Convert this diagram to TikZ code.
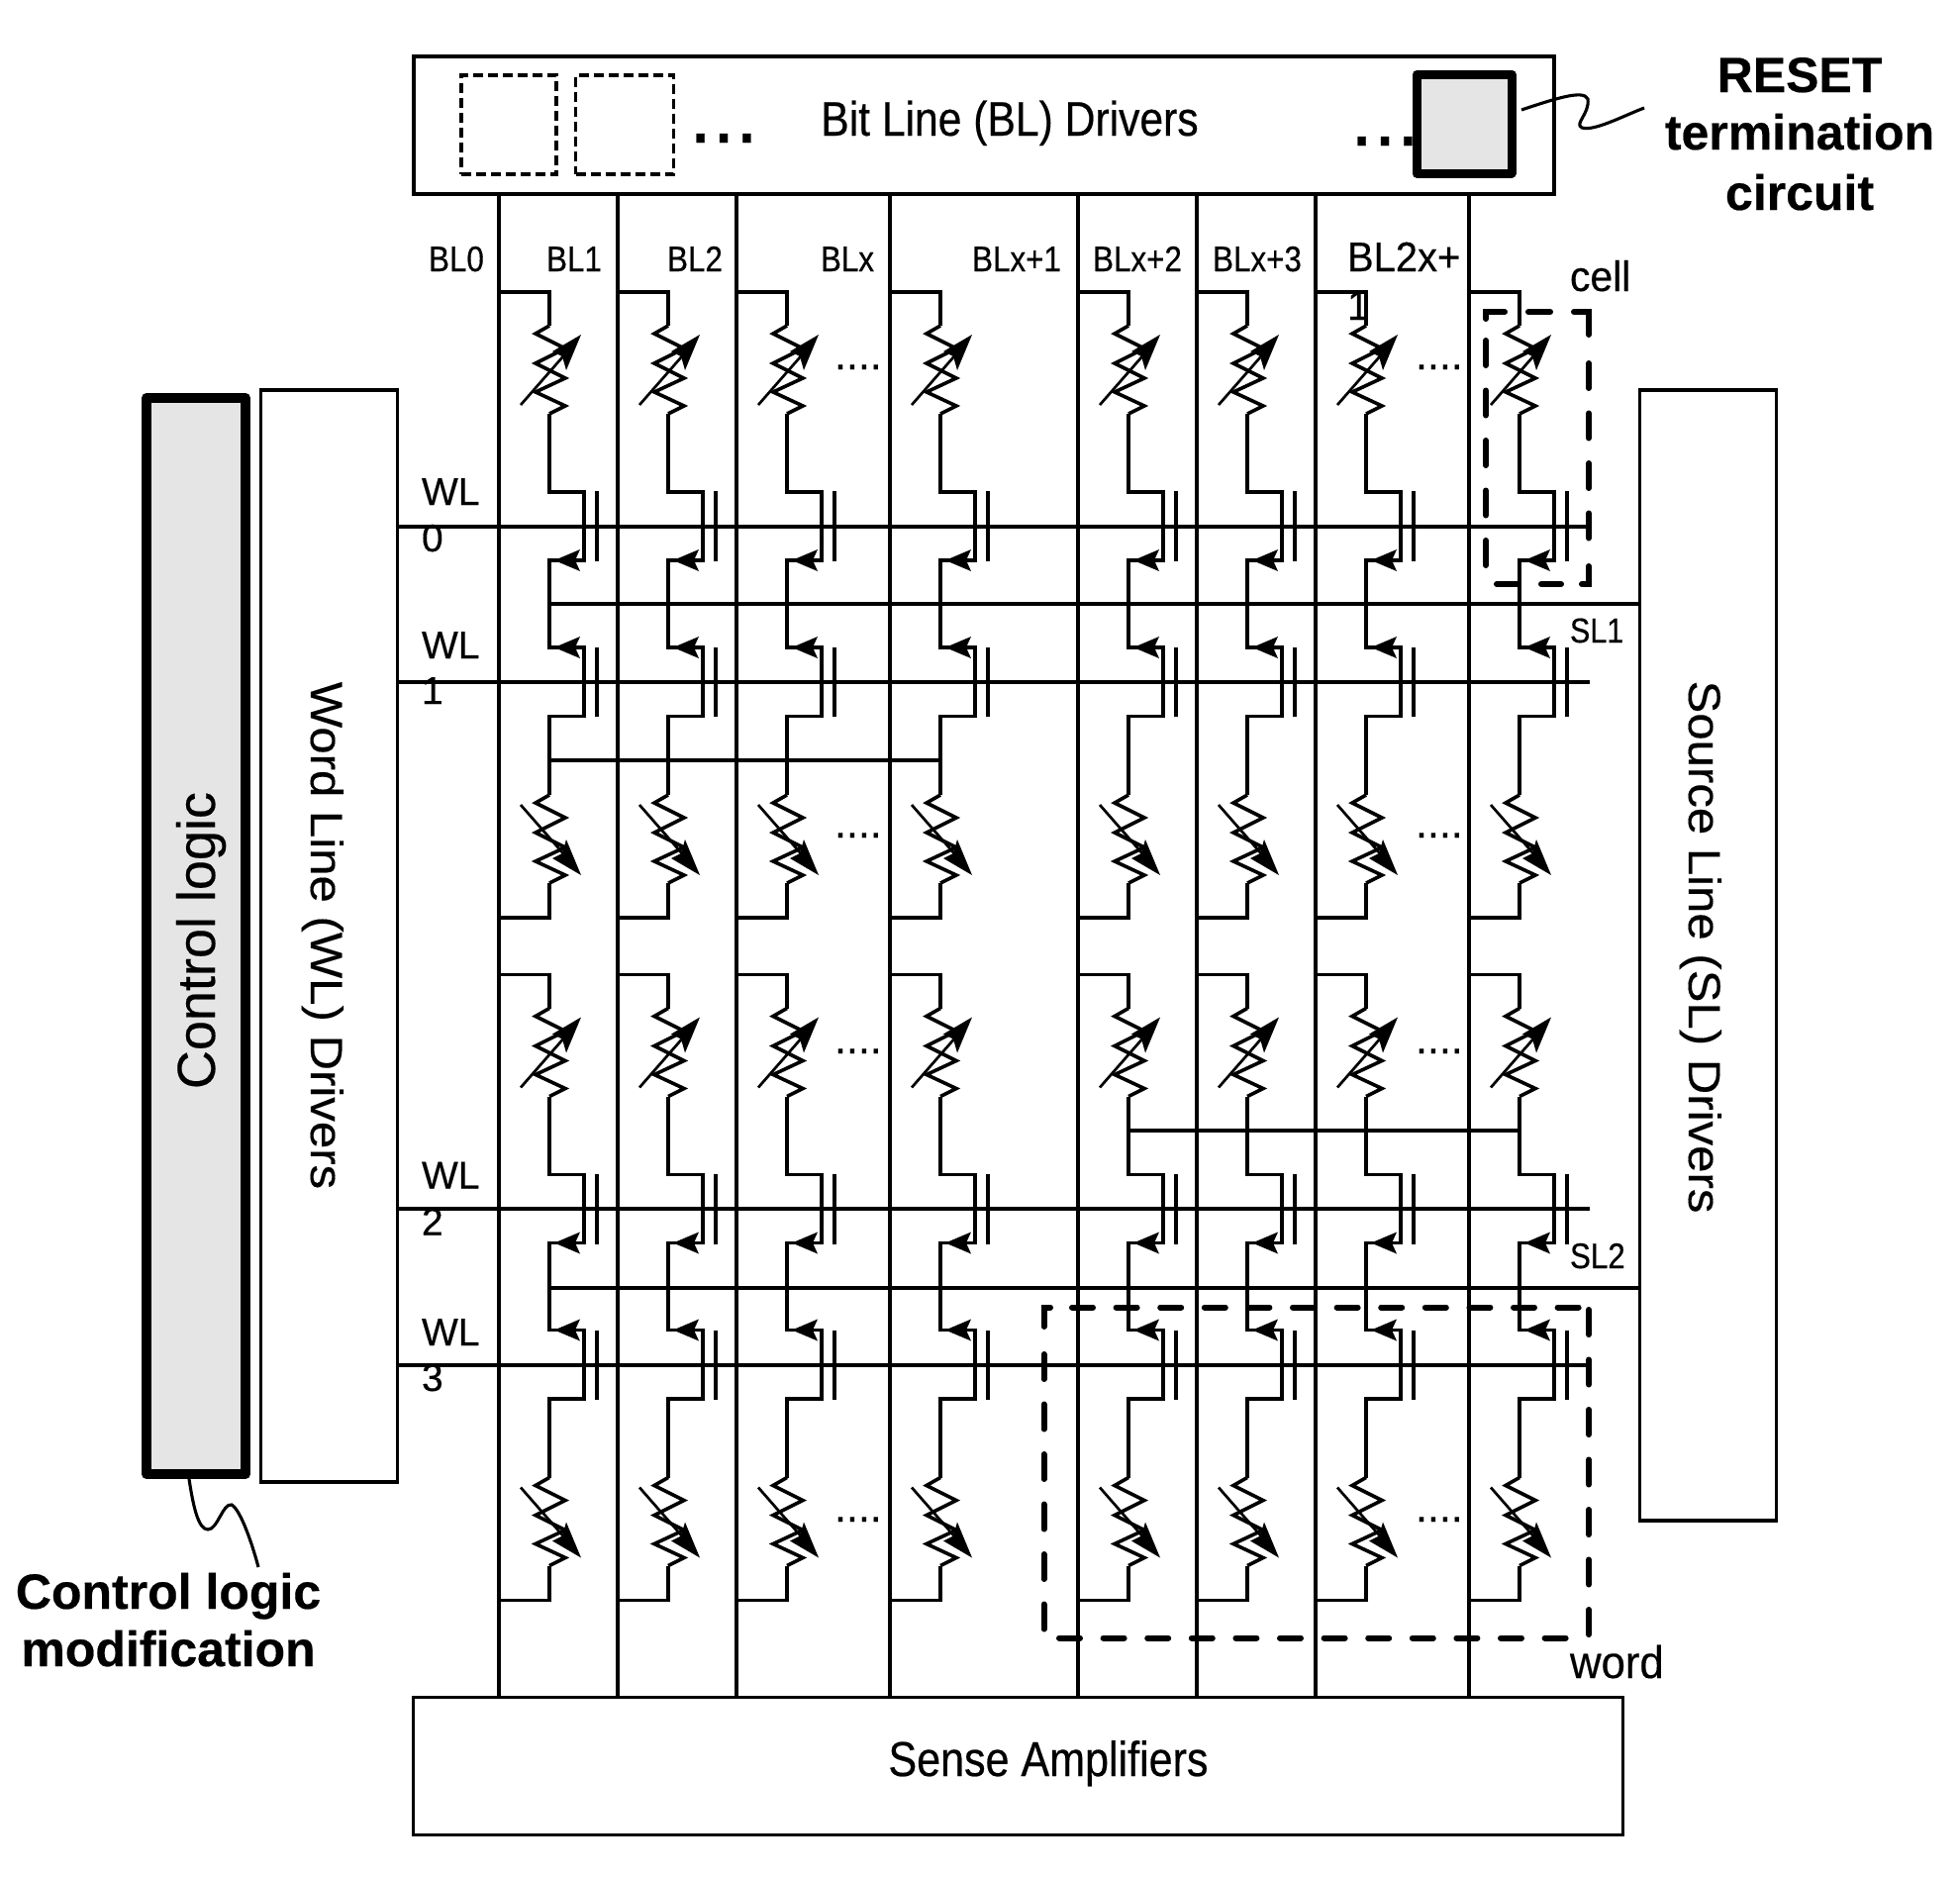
\documentclass[tikz,border=0pt]{standalone}
\usepackage{fontspec}
\setmainfont{Liberation Sans}
\newfontfamily\regf{Liberation Sans}[FakeBold=0.3]
\newfontfamily\condf{Liberation Sans}[FakeStretch=0.87,FakeBold=0.4]
\newfontfamily\widef{Liberation Sans}[FakeStretch=1.08,FakeBold=0.3]
\newfontfamily\slightf{Liberation Sans}[FakeStretch=0.95,FakeBold=0.3]
\newfontfamily\boldfx{Liberation Sans Bold}[FakeBold=0.4]
\newcommand{\fsz}[2]{\fontsize{#1}{#2}\selectfont}
\tikzset{
  wire/.style={draw=black,line width=3.1pt,line join=miter},
  thinwire/.style={draw=black,line width=3.1pt},
  zig/.style={draw=black,line width=3.6pt,line join=miter},
  box/.style={draw=black,line width=3.2pt,fill=white,rectangle,inner sep=0pt,outer sep=0pt},
  hot/.style={draw=black,line width=10pt,line join=round,fill=black!10,rectangle,inner sep=0pt,outer sep=0pt},
  txt/.style={inner sep=0pt,outer sep=0pt,anchor=base,text=black},
  txtl/.style={inner sep=0pt,outer sep=0pt,anchor=base west,text=black,align=left},
  smalldash/.style={draw=black,line width=3.2pt,dash pattern=on 10pt off 5pt},
  bigdash/.style={draw=black,line width=6pt,line cap=round},
  hdash/.style={bigdash,dash pattern=on 21pt off 23.6pt},
  vdash/.style={bigdash,dash pattern=on 25pt off 25.5pt},
  resup/.pic={
    \draw[zig] (0,0) -- (-14,8) -- (16,23) -- (-14,38) -- (16,53) -- (-14,67) -- (16,81) -- (0,89);
    \draw[line width=2.7pt] (-29,80) -- (20,24);
    \fill (32,9) -- (3,26) -- (13,31) -- (17,45) -- cycle;
  },
  resdown/.pic={
    \draw[zig] (0,0) -- (-14,8) -- (16,23) -- (-14,38) -- (16,53) -- (-14,67) -- (16,81) -- (0,89);
    \draw[line width=2.7pt] (-29,10) -- (20,66);
    \fill (32,81) -- (3,64) -- (13,59) -- (17,45) -- cycle;
  },
  larrow/.pic={
    \fill (5,0) -- (31,-11) -- (26,0) -- (31,11) -- cycle;
  },
  halfcol/.pic={
    \pic at (0,34) {resup};
    \draw[wire] (0,123) -- (0,202) -- (35,202) -- (35,271) -- (0,271) -- (0,359) -- (35,359) -- (35,428.5) -- (0,428.5) -- (0,508);
    \draw[wire] (48,201) -- (48,272);
    \draw[wire] (48,359) -- (48,429);
    \pic at (0,271) {larrow};
    \pic at (0,359) {larrow};
    \pic at (0,508) {resdown};
    \draw[wire] (0,597) -- (0,632) -- (-51,632);
    \draw[wire] (-51,0) -- (0,0) -- (0,34);
  }
}
\begin{document}
\begin{tikzpicture}[x=1pt,y=-1pt]
\useasboundingbox[fill=white] (0,0) rectangle (1980,1895);

\node[box,minimum width=1152pt,minimum height=139pt] (bl) at (994,126.5) {};
\node[box,minimum width=1222pt,minimum height=139pt] (sa) at (1028.5,1784) {};
\node[box,minimum width=138.5pt,minimum height=1103pt] (wl) at (332.5,945.5) {};
\node[box,minimum width=137.5pt,minimum height=1142pt] (sl) at (1725.5,965) {};
\node[hot,minimum width=100pt,minimum height=1087pt] (ctl) at (198,945.5) {};
\node[hot,line width=9pt,minimum width=96pt,minimum height=100pt] (rst) at (1479,125) {};

\node[draw=none,smalldash,rectangle,minimum width=96pt,minimum height=100pt,inner sep=0pt] (d1) at (514,126) {};
\node[draw=none,smalldash,rectangle,minimum width=99pt,minimum height=100pt,inner sep=0pt] (d2) at (631,126) {};

\foreach \b in {504,624,744,899,1089,1209,1329,1484}{
  \draw[wire,line width=3.3pt] (\b,0 |- bl.south) -- (\b,0 |- sa.north);
  \pgfmathsetmacro{\w}{\b+51}
  \pic at (\w,295) {halfcol};
  \pic at (\w,984.5) {halfcol};
}

% word lines
\coordinate (wlend) at (1606,0);
\draw[thinwire] (wl.east |- 0,532) -- (wlend |- 0,532);
\draw[wire] (wl.east |- 0,689) -- (wlend |- 0,689);
\draw[thinwire] (wl.east |- 0,1221) -- (wlend |- 0,1221);
\draw[wire] (wl.east |- 0,1379) -- (wlend |- 0,1379);

% source lines and shorting straps
\draw[wire] (555,610) -- (sl.west |- 0,610);
\draw[wire] (555,1301) -- (sl.west |- 0,1301);
\draw[wire] (555,768) -- (950,768);
\draw[thinwire] (1140,1142) -- (1536,1142);

% cell dashed box
\draw[bigdash] (1501,322) -- (1501,315) -- (1520,315);
\draw[bigdash] (1544,315) -- (1566,315);
\draw[bigdash] (1590,315) -- (1605,315) -- (1605,338);
\draw[vdash] (1501,344) -- (1501,580);
\draw[vdash] (1605,367) -- (1605,545);
\draw[bigdash] (1605,572) -- (1605,590) -- (1598,590);
\draw[bigdash] (1512,590) -- (1533,590);
\draw[bigdash] (1557,590) -- (1577,590);

% word dashed box
\draw[bigdash] (1054.5,1340) -- (1054.5,1320.5) -- (1061,1320.5);
\draw[hdash] (1083,1320.5) -- (1598,1320.5);
\draw[vdash] (1605,1323) -- (1605,1652);
\draw[hdash] (1070,1654.5) -- (1586,1654.5);
\draw[vdash] (1054.5,1368) -- (1054.5,1648);

% leader squiggles
\coordinate (rstlabel) at (1661,109);
\coordinate (rstfrom) at (1537,111);
\draw[thinwire] (rstfrom) .. controls (1570,100) and (1600,90) .. (1604,100)
  .. controls (1606,115) and (1590,125) .. (1598,129)
  .. controls (1610,133) and (1640,117) .. (rstlabel);
\coordinate (ctlfrom) at (191,1494);
\coordinate (ctllabel) at (261,1583);
\draw[thinwire] (ctlfrom) .. controls (195,1520) and (200,1545) .. (210,1545)
  .. controls (220,1545) and (225,1518) .. (234,1520)
  .. controls (243,1525) and (255,1560) .. (ctllabel);

% labels
\node[txt,font=\condf\fsz{49}{49}] (tbl) at (1020,137) {Bit Line (BL) Drivers};
\node[txt,font=\condf\fsz{49.5}{49}] (tsa) at (1059,1794) {Sense Amplifiers};
\node[txt,font=\widef\fsz{45.5}{45},rotate=-90] (twl) at (314,945) {Word Line (WL) Drivers};
\node[txt,font=\widef\fsz{45.5}{46},rotate=-90] (tsl) at (1706,956.5) {Source Line (SL) Drivers};
\node[txt,font=\regf\fsz{54}{54},rotate=90] (tctl) at (217,950) {Control logic};

\node[txtl,font=\regf\fsz{84}{84}] (dots1) at (696,144) {...};
\node[txtl,font=\regf\fsz{84}{84}] (dots2) at (1364,147) {...};
\foreach \n/\x in {d3/849,d4/1436}{
  \foreach \m/\y in {a/370,b/843,c/1061,d/1534}{
    \node[txtl,font=\regf\fsz{43}{43}] (\n\m) at (\x-6,\y+3) {....};
  }
}

\foreach \n/\t/\x in {a/BL0/461,b/BL1/580,c/BL2/702,d/BLx/856,e/BLx+1/1027,f/BLx+2/1149,g/BLx+3/1270}{
  \node[txt,font=\condf\fsz{36}{36}] (l\n) at (\x,274) {\t};
}
\node[txtl,font=\slightf\fsz{42}{49}] (lh) at (1361,323) {BL2x+\\1};

\node[txtl,font=\regf\fsz{39}{47}] (w0) at (426,557) {WL\\0};
\node[txtl,font=\regf\fsz{39}{46}] (w1) at (426,711) {WL\\1};
\node[txtl,font=\regf\fsz{39}{47}] (w2) at (426,1247.5) {WL\\2};
\node[txtl,font=\regf\fsz{39}{46}] (w3) at (426,1405) {WL\\3};

\node[txtl,font=\slightf\fsz{43}{40}] (tcell) at (1586,294) {cell};
\node[txtl,font=\condf\fsz{35}{34}] (tsl1) at (1586,649) {SL1};
\node[txtl,font=\condf\fsz{36}{36}] (tsl2) at (1586,1281) {SL2};
\node[txtl,font=\slightf\fsz{46}{46}] (tword) at (1586,1695) {word};

\node[txt,font=\boldfx\fsz{50}{50}] (r1) at (1818,93) {RESET};
\node[txt,font=\boldfx\fsz{50}{50}] (r2) at (1818,151) {termination};
\node[txt,font=\boldfx\fsz{50}{50}] (r3) at (1818,212) {circuit};
\node[txt,font=\boldfx\fsz{50}{50}] (c1) at (170,1625) {Control logic};
\node[txt,font=\boldfx\fsz{50}{50}] (c2) at (170,1683) {modification};
\end{tikzpicture}
\end{document}
